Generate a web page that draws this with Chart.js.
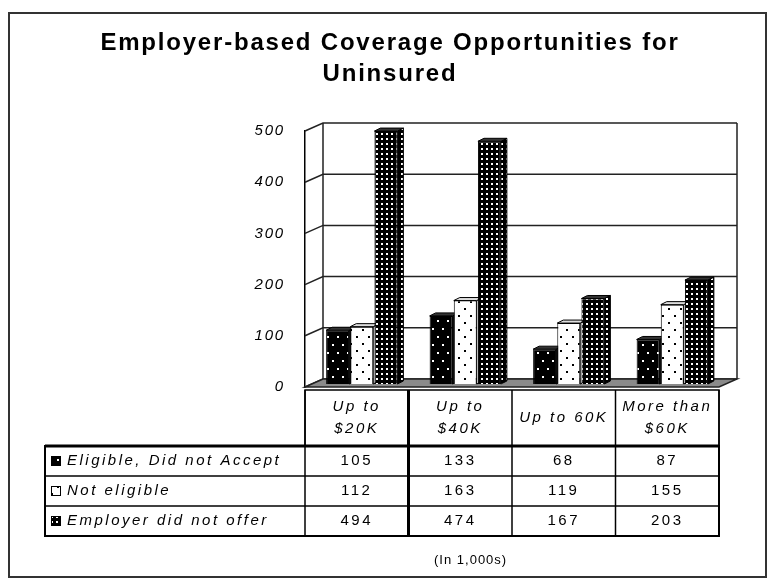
<!DOCTYPE html>
<html>
<head>
<meta charset="utf-8">
<script src="https://cdn.jsdelivr.net/npm/chart.js@4.4.1/dist/chart.umd.min.js"></script>
<style>
  html, body { margin: 0; padding: 0; background: #fff; }
  #wrap { position: relative; width: 772px; height: 578px; overflow: hidden; }
  #frame { position: absolute; left: 8px; top: 12px; width: 755px; height: 562px; border: 2px solid #333; }
  canvas { position: absolute; left: 0; top: 0; }
</style>
</head>
<body>
<div id="wrap">
  <div id="frame"></div>
  <canvas id="chart" width="772" height="578"></canvas>
</div>
<script>
const titleLines = ["Employer-based Coverage Opportunities for", "Uninsured"];
const categories = [["Up to", "$20K"], ["Up to", "$40K"], "Up to 60K", ["More than", "$60K"]];
const seriesNames = ["Eligible, Did not Accept", "Not eligible", "Employer did not offer"];
const eligibleNotAccept = [105, 133, 68, 87];
const notEligible = [112, 163, 119, 155];
const employerNoOffer = [494, 474, 167, 203];
const yTicks = [0, 100, 200, 300, 400, 500];
const unitNote = "(In 1,000s)";

const FONT = "'Liberation Sans', Arial, sans-serif";
const DX = 18, DY = -8;   // depth of the walls
const BDX = 6, BDY = -3;  // depth of each bar
const MIDX = 5, MIDY = -3; // bars stand mid-depth on the floor

const canvas = document.getElementById("chart");
const ctx = canvas.getContext("2d");

function makePattern(w, h, bg, fg, dots) {
  const c = document.createElement("canvas");
  c.width = w; c.height = h;
  const g = c.getContext("2d");
  g.fillStyle = bg;
  g.fillRect(0, 0, w, h);
  g.fillStyle = fg;
  dots.forEach(d => g.fillRect(d[0], d[1], 2, 2));
  return ctx.createPattern(c, "repeat");
}

const patEligible = makePattern(10, 16, "#000", "#fff", [[2, 3], [7, 11]]);
const patNotElig = makePattern(12, 14, "#fff", "#000", [[3, 3], [9, 10]]);
const patNoOffer = makePattern(5, 5, "#000", "#fff", [[1, 1]]);

const threeD = {
  id: "threeD",
  beforeDraw(chart) {
    chart.ctx.letterSpacing = "1.8px";
  },
  beforeDatasetsDraw(chart) {
    const c = chart.ctx;
    c.letterSpacing = "0px";
    const { left, right } = chart.chartArea;
    const y = chart.scales.y;
    const y0 = y.getPixelForValue(0);
    const yTop = y.getPixelForValue(yTicks[yTicks.length - 1]);
    c.save();
    c.strokeStyle = "#222";
    c.lineWidth = 1.5;
    yTicks.forEach(v => {
      const py = y.getPixelForValue(v);
      c.beginPath();
      c.moveTo(left, py);
      c.lineTo(left + DX, py + DY);
      c.lineTo(right + DX, py + DY);
      c.stroke();
    });
    c.beginPath();
    c.moveTo(left + DX, yTop + DY); c.lineTo(left + DX, y0 + DY);
    c.moveTo(right + DX, yTop + DY); c.lineTo(right + DX, y0 + DY);
    c.stroke();
    // floor
    c.fillStyle = "#8a8a8a";
    c.beginPath();
    c.moveTo(left, y0); c.lineTo(right, y0);
    c.lineTo(right + DX, y0 + DY); c.lineTo(left + DX, y0 + DY);
    c.closePath();
    c.fill(); c.stroke();
    c.restore();
    // everything bar-related is shifted to the middle of the depth
    c.save();
    c.translate(MIDX, MIDY);
    c.lineWidth = 1;
    c.strokeStyle = "#000";
    chart.data.datasets.forEach((ds, i) => {
      chart.getDatasetMeta(i).data.forEach(bar => {
        const p = bar.getProps(["x", "y", "base", "width"], true);
        const l = p.x - p.width / 2, r = p.x + p.width / 2;
        c.fillStyle = ds.sideColor;
        c.beginPath();
        c.moveTo(r, p.y); c.lineTo(r + BDX, p.y + BDY);
        c.lineTo(r + BDX, p.base + BDY); c.lineTo(r, p.base);
        c.closePath(); c.fill(); c.stroke();
        c.fillStyle = ds.topColor;
        c.beginPath();
        c.moveTo(l, p.y); c.lineTo(l + BDX, p.y + BDY);
        c.lineTo(r + BDX, p.y + BDY); c.lineTo(r, p.y);
        c.closePath(); c.fill(); c.stroke();
      });
    });
  },
  afterDatasetsDraw(chart) {
    chart.ctx.restore();
  },
  afterDraw(chart) {
    const c = chart.ctx;
    const x = chart.scales.x;
    const y0 = chart.scales.y.getPixelForValue(0);
    const colW = (x.right - x.left) / categories.length;
    const tLeft = 45;
    const hTop = y0 + 3, hBot = y0 + 59, rowH = 30;
    const tBot = hBot + rowH * seriesNames.length;
    const rows = [eligibleNotAccept, notEligible, employerNoOffer];
    const fills = [patEligible, patNotElig, patNoOffer];
    c.save();
    // title
    c.fillStyle = "#000";
    c.textAlign = "center";
    c.textBaseline = "middle";
    c.letterSpacing = "1.8px";
    c.font = "bold 24px " + FONT;
    titleLines.forEach((t, j) => c.fillText(t, chart.width / 2 + 4, 43 + j * 31));
    c.letterSpacing = "2.5px";
    c.strokeStyle = "#000";
    // grid of the table
    c.lineWidth = 1.5;
    c.strokeRect(x.left, hTop, x.right - x.left, hBot - hTop);
    c.lineWidth = 2;
    c.strokeRect(tLeft, hBot, x.right - tLeft, tBot - hBot);
    c.lineWidth = 1.5;
    for (let k = 1; k < seriesNames.length; k++) {
      c.beginPath();
      c.moveTo(tLeft, hBot + rowH * k); c.lineTo(x.right, hBot + rowH * k);
      c.stroke();
    }
    for (let i = 0; i <= categories.length; i++) {
      const px = x.left + colW * i;
      c.lineWidth = i === 1 ? 3 : 1.5;
      c.beginPath();
      c.moveTo(px, hTop); c.lineTo(px, tBot);
      c.stroke();
    }
    c.lineWidth = 3;
    c.beginPath();
    c.moveTo(tLeft, hBot); c.lineTo(x.right, hBot);
    c.stroke();
    // header labels
    c.font = "italic 15px " + FONT;
    categories.forEach((lab, i) => {
      const lines = Array.isArray(lab) ? lab : [lab];
      const cx = x.left + colW * (i + 0.5);
      const cy = (hTop + hBot) / 2;
      lines.forEach((t, j) => {
        c.fillText(t, cx, cy + (j - (lines.length - 1) / 2) * 22);
      });
    });
    // body rows
    rows.forEach((vals, k) => {
      const cy = hBot + rowH * (k + 0.5);
      c.fillStyle = fills[k];
      c.fillRect(tLeft + 6, cy - 5, 10, 10);
      c.lineWidth = 1;
      c.strokeRect(tLeft + 6.5, cy - 4.5, 9, 9);
      c.fillStyle = "#000";
      c.textAlign = "left";
      c.font = "italic 15px " + FONT;
      c.fillText(seriesNames[k], tLeft + 22, cy);
      c.textAlign = "center";
      c.font = "15px " + FONT;
      vals.forEach((v, i) => c.fillText(String(v), x.left + colW * (i + 0.5), cy));
    });
    c.letterSpacing = "1px";
    c.font = "13px " + FONT;
    c.fillText(unitNote, x.left + colW * 1.6, tBot + 24);
    c.restore();
  }
};

new Chart(canvas, {
  type: "bar",
  data: {
    labels: categories,
    datasets: [
      { label: seriesNames[0], data: eligibleNotAccept, backgroundColor: patEligible, borderColor: "#000", borderWidth: 1, sideColor: "#111", topColor: "#333" },
      { label: seriesNames[1], data: notEligible, backgroundColor: patNotElig, borderColor: "#000", borderWidth: 1, sideColor: "#f2f2f2", topColor: "#ddd" },
      { label: seriesNames[2], data: employerNoOffer, backgroundColor: patNoOffer, borderColor: "#000", borderWidth: 1, sideColor: patNoOffer, topColor: "#333" }
    ]
  },
  options: {
    responsive: false,
    animation: false,
    layout: { padding: { left: 245, right: 53, top: 131, bottom: 191 } },
    datasets: { bar: { barPercentage: 0.95, categoryPercentage: 0.7 } },
    plugins: {
      legend: { display: false },
      tooltip: { enabled: false },
      title: { display: false }
    },
    scales: {
      x: { display: false },
      y: {
        min: 0,
        max: 500,
        ticks: { stepSize: 100, padding: 20, color: "#000", font: { family: FONT, size: 15, style: "italic" } },
        grid: { display: false, drawTicks: false },
        border: { display: true, color: "#000", width: 1.5 },
        afterFit(scale) { scale.width = 60; }
      }
    }
  },
  plugins: [threeD]
});
</script>
</body>
</html>
